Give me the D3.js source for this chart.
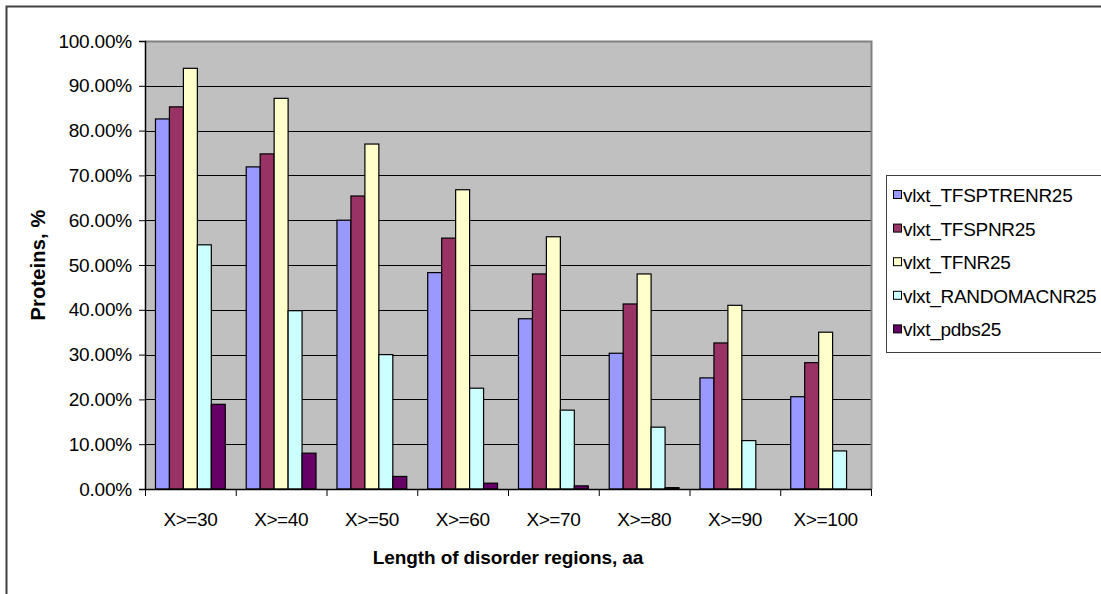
<!DOCTYPE html>
<html>
<head>
<meta charset="utf-8">
<script src="https://cdn.jsdelivr.net/npm/d3@7"></script>
<style>
  html, body { margin: 0; padding: 0; background: #fff; }
  svg { display: block; }
  text { font-family: "Liberation Sans", Arial, sans-serif; fill: #000; }
</style>
</head>
<body>
<svg id="chart" width="1101" height="594"></svg>
<script>
// Share of proteins with disorder regions at least a given length
const categories = ["X>=30", "X>=40", "X>=50", "X>=60", "X>=70", "X>=80", "X>=90", "X>=100"];
const seriesNames = ["vlxt_TFSPTRENR25", "vlxt_TFSPNR25", "vlxt_TFNR25", "vlxt_RANDOMACNR25", "vlxt_pdbs25"];
const tfsptrenr25 = [82.6, 71.9, 60.0, 48.3, 38.0, 30.3, 24.8, 20.6];
const tfspnr25    = [85.3, 74.8, 65.4, 56.0, 48.0, 41.3, 32.6, 28.2];
const tfnr25      = [93.9, 87.2, 77.0, 66.8, 56.3, 48.0, 41.0, 35.0];
const randomacnr25 = [54.5, 39.8, 30.0, 22.5, 17.6, 13.8, 10.8, 8.5];
const pdbs25      = [18.9, 8.0, 2.8, 1.3, 0.7, 0.3, 0.0, 0.0];
const yTicks = [0, 10, 20, 30, 40, 50, 60, 70, 80, 90, 100];
const colors = ["#9999FF", "#993366", "#FFFFCC", "#CCFFFF", "#660066"];

const seriesValues = [tfsptrenr25, tfspnr25, tfnr25, randomacnr25, pdbs25];
const rows = categories.map((c, i) => ({
  cat: c,
  vals: seriesValues.map((s, k) => ({ key: seriesNames[k], k, v: s[i] }))
}));

const svg = d3.select("#chart");

// outer chart frame
svg.append("rect")
  .attr("x", 6.5).attr("y", 6.5)
  .attr("width", 1110).attr("height", 610)
  .attr("fill", "#fff").attr("stroke", "#404040").attr("stroke-width", 2);

const plot = { left: 145, top: 41, right: 871, bottom: 489 };

const x0 = d3.scaleBand().domain(categories).range([plot.left, plot.right]).paddingInner(0).paddingOuter(0);
// gap of 150% of a bar width between clusters
const barW = x0.bandwidth() / (seriesNames.length + 1.5);
const groupOffset = barW * 0.75;
const x1 = d3.scaleBand().domain(seriesNames).range([groupOffset, groupOffset + barW * seriesNames.length]);
const y = d3.scaleLinear().domain([0, 100]).range([plot.bottom, plot.top]);

// plot background
svg.append("rect")
  .attr("x", plot.left).attr("y", plot.top)
  .attr("width", plot.right - plot.left).attr("height", plot.bottom - plot.top)
  .attr("fill", "#C0C0C0");

// horizontal gridlines
svg.append("g")
  .selectAll("line")
  .data(yTicks.filter(t => t > 0))
  .join("line")
  .attr("x1", plot.left).attr("x2", plot.right)
  .attr("y1", d => Math.round(y(d)) + 0.5).attr("y2", d => Math.round(y(d)) + 0.5)
  .attr("stroke", "#000").attr("stroke-width", 1);

// plot border on top and right
svg.append("path")
  .attr("d", `M${plot.left},${plot.top + 0.5}H${plot.right + 0.5}V${plot.bottom}`)
  .attr("fill", "none").attr("stroke", "#808080").attr("stroke-width", 2);

// bars
svg.append("g")
  .selectAll("g")
  .data(rows)
  .join("g")
  .attr("transform", d => `translate(${x0(d.cat)},0)`)
  .selectAll("rect")
  .data(d => d.vals.filter(o => o.v > 0))
  .join("rect")
  .attr("x", d => x1(d.key))
  .attr("y", d => y(d.v))
  .attr("width", x1.bandwidth())
  .attr("height", d => y(0) - y(d.v))
  .attr("fill", d => colors[d.k])
  .attr("stroke", "#000").attr("stroke-width", 1.2);

// y axis
const yAxis = d3.axisLeft(y)
  .tickValues(yTicks)
  .tickSize(6)
  .tickPadding(7)
  .tickFormat(d => d3.format(".2f")(d) + "%");
const gy = svg.append("g").attr("transform", `translate(${plot.left},0)`).call(yAxis);
gy.select(".domain").attr("stroke", "#000").attr("stroke-width", 1.5);
gy.selectAll(".tick line").attr("stroke", "#000");
gy.selectAll(".tick text")
  .attr("font-size", 19).attr("letter-spacing", -0.2)
  .attr("font-family", "Liberation Sans, Arial, sans-serif");

// x axis with tick marks between categories
const xAxis = d3.axisBottom(x0).tickSize(0).tickPadding(24);
const gx = svg.append("g").attr("transform", `translate(0,${plot.bottom})`).call(xAxis);
gx.select(".domain").attr("stroke", "#000").attr("stroke-width", 1.5);
gx.selectAll(".tick text")
  .attr("font-size", 19).attr("letter-spacing", -0.4)
  .attr("font-family", "Liberation Sans, Arial, sans-serif");
gx.append("g")
  .selectAll("line")
  .data(categories.map(c => x0(c)).concat([plot.right]))
  .join("line")
  .attr("x1", d => d + 0.5).attr("x2", d => d + 0.5)
  .attr("y1", 0).attr("y2", 7)
  .attr("stroke", "#000");

// axis titles
svg.append("text")
  .attr("x", (plot.left + plot.right) / 2)
  .attr("y", 564)
  .attr("text-anchor", "middle")
  .attr("font-size", 19).attr("font-weight", "bold").attr("letter-spacing", -0.1)
  .text("Length of disorder regions, aa");

svg.append("text")
  .attr("transform", `translate(45,${(plot.top + plot.bottom) / 2}) rotate(-90)`)
  .attr("text-anchor", "middle")
  .attr("font-size", 20).attr("font-weight", "bold").attr("letter-spacing", 0.2)
  .text("Proteins, %");

// legend
const legend = svg.append("g").attr("transform", "translate(886,175)");
legend.append("rect")
  .attr("x", 0.5).attr("y", 0.5)
  .attr("width", 230).attr("height", 177)
  .attr("fill", "#fff").attr("stroke", "#404040").attr("stroke-width", 1);
const items = legend.selectAll("g.item")
  .data(seriesNames)
  .join("g")
  .attr("class", "item")
  .attr("transform", (d, i) => `translate(0,${20 + i * 33.6})`);
items.append("rect")
  .attr("x", 7.5).attr("y", -4.5)
  .attr("width", 8).attr("height", 8)
  .attr("fill", (d, i) => colors[i])
  .attr("stroke", "#000").attr("stroke-width", 1);
items.append("text")
  .attr("x", 17).attr("y", 7)
  .attr("font-size", 19).attr("letter-spacing", -0.3)
  .text(d => d);
</script>
</body>
</html>
